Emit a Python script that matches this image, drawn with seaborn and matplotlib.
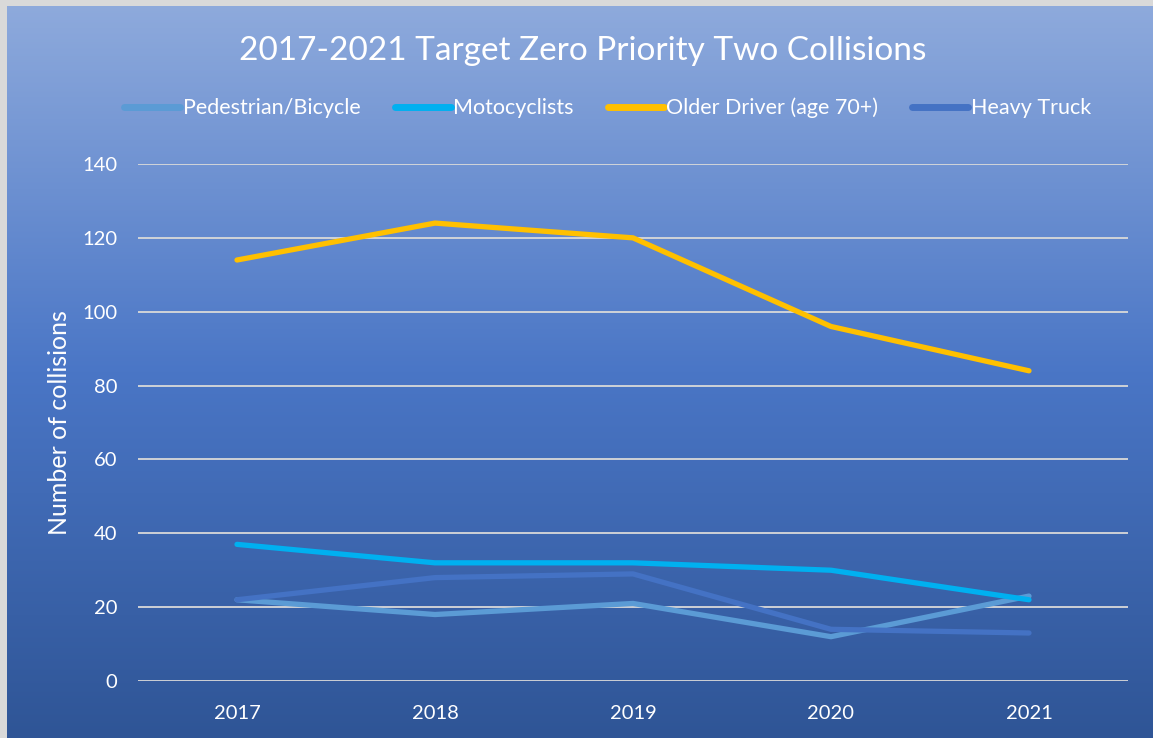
import matplotlib
matplotlib.use("Agg")
import matplotlib.pyplot as plt
import numpy as np
import pandas as pd
import seaborn as sns
from matplotlib.colors import LinearSegmentedColormap

years = ["2017", "2018", "2019", "2020", "2021"]
pedestrian = [22, 18, 21, 12, 23]
motocyclists = [37, 32, 32, 30, 22]
older_driver = [114, 124, 120, 96, 84]
heavy_truck = [22, 28, 29, 14, 13]

series_names = ["Pedestrian/Bicycle", "Motocyclists", "Older Driver (age 70+)", "Heavy Truck"]
series_vals = [pedestrian, motocyclists, older_driver, heavy_truck]
palette = ["#5b9bd5", "#00b0f0", "#ffc000", "#4472c4"]

df = pd.DataFrame(
    [(y, name, v) for name, vals in zip(series_names, series_vals) for y, v in zip(years, vals)],
    columns=["year", "series", "value"],
)

sns.set_style("white")
plt.rcParams["font.family"] = ["Lato", "DejaVu Sans"]

W, H = 1153, 738
fig = plt.figure(figsize=(W / 100, H / 100), dpi=100)
fig.patch.set_facecolor("#d9d9d9")

# gradient background
bg = fig.add_axes([0.006, 0.0, 0.994, 0.992], zorder=-10)
grad = LinearSegmentedColormap.from_list("bg", ["#8eaadc", "#4a76c6", "#2f5596"])
bg.imshow(np.linspace(0, 1, 256)[:, None], aspect="auto", cmap=grad, extent=[0, 1, 0, 1])
bg.set_axis_off()

ax = fig.add_axes([138 / W, 57 / H, 990 / W, 517 / H])
ax.patch.set_alpha(0)
sns.lineplot(data=df, x="year", y="value", hue="series", palette=palette,
             linewidth=3.8, ax=ax, legend=True, sort=False)
for ln in ax.lines:
    ln.set_solid_capstyle("round")

ax.set_xlim(-0.5, 4.5)
ax.set_ylim(0, 140)
ax.set_yticks(range(0, 141, 20))
ax.yaxis.grid(True, color="#d9d9d9", linewidth=1.3)
ax.set_axisbelow(True)
for s in ax.spines.values():
    s.set_visible(False)
ax.tick_params(axis="both", colors="white", labelsize=14.5, length=0)
ax.tick_params(axis="x", pad=17)
ax.tick_params(axis="y", pad=15)
ax.set_xlabel("")
ax.set_ylabel("Number of collisions", color="white", fontsize=18, labelpad=8)

handles, labels = ax.get_legend_handles_labels()
ax.get_legend().remove()
for h in handles:
    h.set_linewidth(5)
leg = fig.legend(handles, labels, loc="center", bbox_to_anchor=(0.527, 1 - 108 / H),
                 ncol=4, frameon=False, fontsize=15.5, handlelength=2.6,
                 handletextpad=0.1, columnspacing=1.6)
for t in leg.get_texts():
    t.set_color("white")

fig.text(0.505, 1 - 51 / H, "2017-2021 Target Zero Priority Two Collisions",
         ha="center", va="center", color="white", fontsize=24)

fig.savefig("out.png", dpi=100)
